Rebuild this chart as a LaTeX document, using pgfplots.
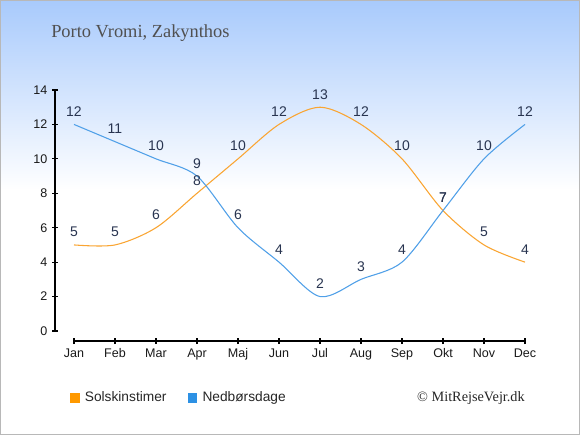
\documentclass[border=0pt]{standalone}
\usepackage{pgfplots}
\pgfplotsset{compat=1.18}
\usepackage{fontspec}
\setmainfont{Liberation Sans}
\newfontfamily\serif{Liberation Serif}
\definecolor{topblue}{RGB}{168,202,252}
\definecolor{sun}{RGB}{250,165,50}
\definecolor{rain}{RGB}{80,160,232}
\definecolor{sunleg}{RGB}{255,153,0}
\definecolor{rainleg}{RGB}{45,145,228}
\definecolor{lab}{RGB}{40,52,80}
\definecolor{ttl}{RGB}{80,80,80}
\begin{document}
\begin{tikzpicture}
\fill[top color=topblue,bottom color=white] (0pt,326.25pt) rectangle (435pt,183.75pt);
\fill[white] (0pt,183.75pt) rectangle (435pt,0pt);
\draw[color=black!28,line width=1.1pt] (0.55pt,0.55pt) rectangle (434.45pt,325.7pt);
\node[anchor=base west,inner sep=0pt,font=\serif\fontsize{13.8}{15}\selectfont,text=ttl] at (38.25pt,298.1pt) {Porto Vromi, Zakynthos};
\node[anchor=base east,inner sep=0pt,font=\serif\fontsize{10.7}{12}\selectfont,text=black!85] at (393.75pt,25.1pt) {© MitRejseVejr.dk};
\begin{axis}[
  at={(55.5pt,78pt)}, anchor=south west,
  scale only axis, width=338.25pt, height=180.75pt,
  xmin=0, xmax=11, ymin=0, ymax=14,
  axis x line=bottom, axis y line=left,
  axis x line shift=7.5pt, axis y line shift=14.25pt,
  axis line style={-, black, line width=0.9pt},
  tick style={black, line width=0.8pt},
  tick align=center, major tick length=4.5pt,
  xtick={0,...,11},
  xticklabels={Jan,Feb,Mar,Apr,Maj,Jun,Jul,Aug,Sep,Okt,Nov,Dec},
  ytick={0,2,...,14},
  /pgf/number format/assume math mode=true,
  ticklabel style={font=\fontsize{9.4}{11}\selectfont, text=black!90},
  clip=false,
  legend style={at={(-0.009,-0.278)}, anchor=west, draw=none, fill=none,
    legend columns=2, inner sep=0pt,
    font=\fontsize{10.3}{12}\selectfont, text=black!85,
    /tikz/every even column/.append style={column sep=14pt}},
  legend image code/.code={\fill[#1,draw=none] (0pt,-3.5pt) rectangle (7pt,3.5pt);},
  nodes near coords,
  every node near coord/.append style={font=\fontsize{10.5}{12}\selectfont, text=lab, anchor=base, inner sep=0pt, yshift=6pt},
]
\addlegendimage{fill=sunleg,draw=none}
\addlegendentry{\hspace{2pt}Solskinstimer}
\addlegendimage{fill=rainleg,draw=none}
\addlegendentry{\hspace{2pt}Nedbørsdage}
\addplot[forget plot, color=sun, line width=0.8pt, smooth, tension=0.5, mark=none] coordinates {
(0,5) (1,5) (2,6) (3,8) (4,10) (5,12) (6,13) (7,12) (8,10) (9,7) (10,5) (11,4)};
\addplot[forget plot, color=rain, line width=0.8pt, smooth, tension=0.5, mark=none] coordinates {
(0,12) (1,11) (2,10) (3,9) (4,6) (5,4) (6,2) (7,3) (8,4) (9,7) (10,10) (11,12)};
\end{axis}
\pgfresetboundingbox
\path[use as bounding box] (0pt,0pt) rectangle (435pt,326.25pt);
\end{tikzpicture}
\end{document}
